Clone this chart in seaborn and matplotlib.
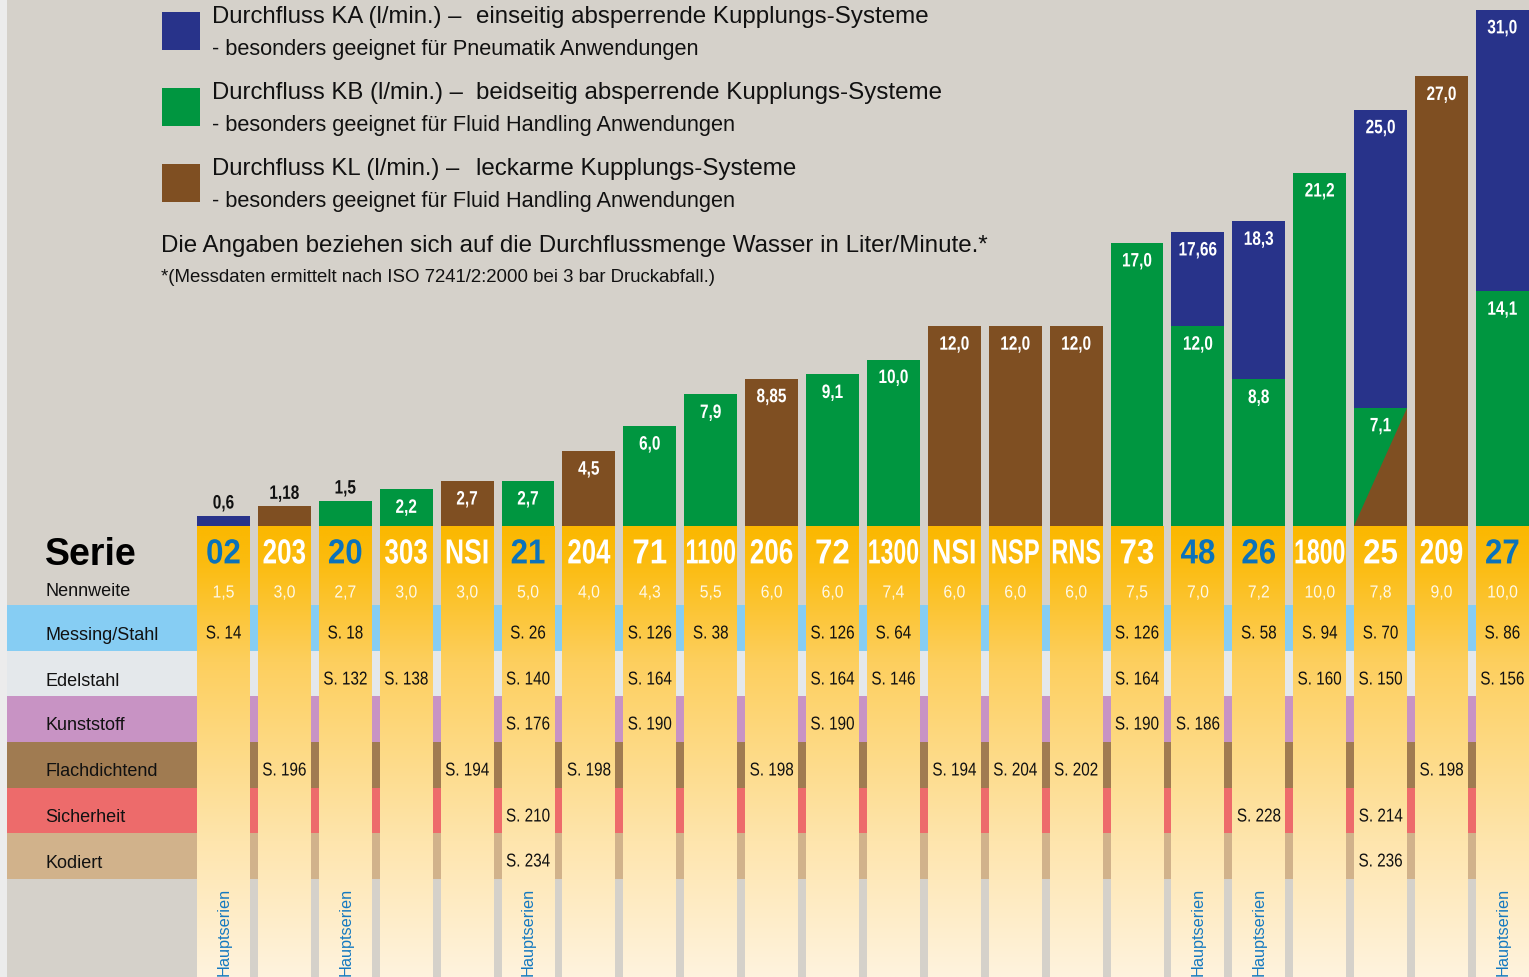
import numpy as np
import pandas as pd
import matplotlib
matplotlib.use("Agg")
import matplotlib.pyplot as plt
import seaborn as sns
from matplotlib.patches import Rectangle
from matplotlib.colors import LinearSegmentedColormap
from matplotlib.patheffects import AbstractPathEffect
from matplotlib.transforms import Affine2D

# ---------------------------------------------------------------- data
series = ["02", "203", "20", "303", "NSI", "21", "204", "71", "1100", "206", "72",
          "1300", "NSI", "NSP", "RNS", "73", "48", "26", "1800", "25", "209", "27"]
nennweite = [1.5, 3.0, 2.7, 3.0, 3.0, 5.0, 4.0, 4.3, 5.5, 6.0, 6.0,
             7.4, 6.0, 6.0, 6.0, 7.5, 7.0, 7.2, 10.0, 7.8, 9.0, 10.0]
hauptserie = [True, False, True, False, False, True, False, False, False, False, False,
              False, False, False, False, False, True, True, False, False, False, True]

# Durchfluss in l/min
flow_ka = [0.6, None, None, None, None, None, None, None, None, None, None,
           None, None, None, None, None, 17.66, 18.3, None, 25.0, None, 31.0]
flow_kb = [None, None, 1.5, 2.2, None, 2.7, None, 6.0, 7.9, None, 9.1,
           10.0, None, None, None, 17.0, 12.0, 8.8, 21.2, 7.1, None, 14.1]
flow_kl = [None, 1.18, None, None, 2.7, None, 4.5, None, None, 8.85, None,
           None, 12.0, 12.0, 12.0, None, None, None, None, 7.1, 27.0, None]

materials = ["Messing/Stahl", "Edelstahl", "Kunststoff", "Flachdichtend", "Sicherheit", "Kodiert"]
ref_messing = [14, None, 18, None, None, 26, None, 126, 38, None, 126,
               64, None, None, None, 126, None, 58, 94, 70, None, 86]
ref_edelstahl = [None, None, 132, 138, None, 140, None, 164, None, None, 164,
                 146, None, None, None, 164, None, None, 160, 150, None, 156]
ref_kunststoff = [None, None, None, None, None, 176, None, 190, None, None, 190,
                  None, None, None, None, 190, 186, None, None, None, None, None]
ref_flach = [None, 196, None, None, 194, None, 198, None, None, 198, None,
             None, 194, 204, 202, None, None, None, None, None, 198, None]
ref_sicher = [None, None, None, None, None, 210, None, None, None, None, None,
              None, None, None, None, None, None, 228, None, 214, None, None]
ref_kodiert = [None, None, None, None, None, 234, None, None, None, None, None,
               None, None, None, None, None, None, None, None, 236, None, None]
page_refs = [ref_messing, ref_edelstahl, ref_kunststoff, ref_flach, ref_sicher, ref_kodiert]

legend_items = [
    ("KA", "Durchfluss KA (l/min.) –", "einseitig absperrende Kupplungs-Systeme",
     "- besonders geeignet für Pneumatik Anwendungen"),
    ("KB", "Durchfluss KB (l/min.) –", "beidseitig absperrende Kupplungs-Systeme",
     "- besonders geeignet für Fluid Handling Anwendungen"),
    ("KL", "Durchfluss KL (l/min.) –", "leckarme Kupplungs-Systeme",
     "- besonders geeignet für Fluid Handling Anwendungen"),
]
note_main = "Die Angaben beziehen sich auf die Durchflussmenge Wasser in Liter/Minute.*"
note_small = "*(Messdaten ermittelt nach ISO 7241/2:2000 bei 3 bar Druckabfall.)"

# ---------------------------------------------------------------- style
W, H = 1529, 977
BG = "#d5d1ca"
PALETTE = {"KA": "#28338a", "KB": "#009640", "KL": "#7f4f22"}
ROW_COLORS = ["#86cdf3", "#e4e8eb", "#c893c4", "#a07b51", "#ed6b6b", "#d1b28b"]
BLUE_TEXT = "#0b72ba"

PITCH = 60.9          # pixels between column centres
X0 = 223.5            # pixel centre of the first column
BAR_W = 0.87
BASE_Y = 526          # pixel row of the bar baseline
PX_PER_UNIT = 16.65   # pixels per l/min
ROW_TOPS = [605, 651, 696, 742, 788, 833]
ROW_BOTTOM = 879

sns.set_theme(style="white")
plt.rcParams["font.family"] = ["Liberation Sans", "DejaVu Sans"]


class Condensed(AbstractPathEffect):
    """Reshape glyph outlines around their centre, like a condensed display face.

    The drawn width is min(sx * w, a + b * w) for a natural width w (pixels),
    so longer words are squeezed more; sy stretches the glyphs vertically.
    """

    def __init__(self, sx=0.8, a=None, b=0.0, sy=1.0):
        super().__init__()
        self.sx, self.a, self.b, self.sy = sx, a, b, sy

    def draw_path(self, renderer, gc, tpath, affine, rgbFace=None):
        ext = tpath.get_extents(affine)
        w = ext.width * self.sy
        target = self.sx * w
        if self.a is not None:
            target = min(target, self.a + self.b * w)
        sx = self.sy * target / w if w > 0 else 1.0
        cx = 0.5 * (ext.x0 + ext.x1)
        cy = 0.5 * (ext.y0 + ext.y1)
        aff = affine + Affine2D().translate(-cx, -cy).scale(sx, self.sy).translate(cx, cy)
        renderer.draw_path(gc, tpath, aff, rgbFace)


def col_x(px):
    return (px - X0) / PITCH


fig = plt.figure(figsize=(W / 100, H / 100), dpi=100, facecolor=BG)
xlim = (col_x(0), col_x(W))

# ---------------------------------------------------------------- table layer
ax_tab = fig.add_axes([0, 0, 1, 1])
ax_tab.set_facecolor(BG)
ax_tab.add_patch(Rectangle((col_x(0), 0), col_x(7) - col_x(0), H, color="#ececec", lw=0, zorder=0))

for top, bottom, color in zip(ROW_TOPS, ROW_TOPS[1:] + [ROW_BOTTOM], ROW_COLORS):
    ax_tab.add_patch(Rectangle((col_x(7), top), xlim[1] - col_x(7), bottom - top,
                               color=color, lw=0, zorder=1))

cmap = LinearSegmentedColormap.from_list(
    "serie", [(0, "#fbb800"), (0.08, "#fbbc10"), (0.3, "#fdcf5e"),
              (0.7, "#fee5ad"), (1, "#fff3de")])
grad = np.linspace(0, 1, 256).reshape(-1, 1)
for i in range(len(series)):
    ax_tab.imshow(grad, cmap=cmap, aspect="auto", origin="upper", zorder=2,
                  extent=(i - BAR_W / 2, i + BAR_W / 2, H, BASE_Y), interpolation="bilinear")

ax_tab.set_xlim(*xlim)
ax_tab.set_ylim(H, 0)
ax_tab.axis("off")

# row headers
ax_tab.text(col_x(45), 555, "Serie", fontsize=27, fontweight="bold", color="black",
            ha="left", va="center", zorder=5)
ax_tab.text(col_x(45), 592, "Nennweite", fontsize=13, color="#111111",
            ha="left", va="center", zorder=5)
for top, name in zip(ROW_TOPS, materials):
    ax_tab.text(col_x(45), top + 30, name, fontsize=13, color="#111111",
                ha="left", va="center", zorder=5)

# column contents
for i, name in enumerate(series):
    ax_tab.text(i, 554, name, fontsize=20, fontweight="bold",
                color=BLUE_TEXT if hauptserie[i] else "white", ha="center", va="center",
                zorder=5, path_effects=[Condensed(0.9, 19.4, 0.4, sy=1.25)])
    ax_tab.text(i, 593, f"{nennweite[i]:.1f}".replace(".", ","), fontsize=12.6,
                color="#fff8e6", ha="center", va="center", zorder=5,
                path_effects=[Condensed(0.9)])
    for top, refs in zip(ROW_TOPS, page_refs):
        if refs[i] is not None:
            ax_tab.text(i, top + 29, f"S. {refs[i]}", fontsize=13.4, color="#111111",
                        ha="center", va="center", zorder=5, path_effects=[Condensed(0.82)])
    if hauptserie[i]:
        ax_tab.text(i + 0.01, H - 1, "Hauptserien", fontsize=11.7, color="#1479c0", rotation=90,
                    ha="center", va="bottom", zorder=5)

# ---------------------------------------------------------------- flow bars
ax_bar = fig.add_axes([0, (H - BASE_Y) / H, 1, BASE_Y / H])
ax_bar.patch.set_alpha(0)

rows = []
for kind, values in (("KA", flow_ka), ("KB", flow_kb), ("KL", flow_kl)):
    for i, v in enumerate(values):
        if v is None:
            continue
        # a KL value equal to the KB value of the same series shares the bar
        if kind == "KL" and flow_kb[i] is not None and flow_kb[i] == v:
            continue
        rows.append({"pos": i, "kind": kind, "value": v})
bars = pd.DataFrame(rows)

sns.barplot(data=bars, x="pos", y="value", hue="kind", hue_order=["KA", "KL", "KB"],
            palette=PALETTE, dodge=False, native_scale=True, width=BAR_W,
            errorbar=None, saturation=1, legend=False, linewidth=0, ax=ax_bar)

# shared KB/KL bars: lower-right half in KL colour
for i, (kb, kl) in enumerate(zip(flow_kb, flow_kl)):
    if kb is not None and kl is not None and kb == kl:
        ax_bar.fill([i - BAR_W / 2, i + BAR_W / 2, i + BAR_W / 2], [0, 0, kl],
                    color=PALETTE["KL"], lw=0, zorder=3)

for values in (flow_ka, flow_kb, flow_kl):
    for i, v in enumerate(values):
        if v is None or (values is flow_kl and flow_kb[i] == v):
            continue
        label = str(v).replace(".", ",")
        inside = v >= 2
        ax_bar.annotate(label, xy=(i, v), xytext=(0, -19 if inside else 12),
                        textcoords="offset pixels", ha="center", va="center",
                        fontsize=14, fontweight="bold",
                        color="white" if inside else "#111111", zorder=6,
                        path_effects=[Condensed(0.79)])

ax_bar.set_xlim(*xlim)
ax_bar.set_ylim(0, BASE_Y / PX_PER_UNIT)
ax_bar.axis("off")

# ---------------------------------------------------------------- legend and notes
for k, (kind, head, tail, sub) in enumerate(legend_items):
    y0 = 17 + 76 * k
    ax_tab.add_patch(Rectangle((col_x(162), y0 - 5), col_x(200) - col_x(162), 38,
                               color=PALETTE[kind], lw=0, zorder=5))
    ax_tab.text(col_x(212), y0, head, fontsize=17.2, color="#111111", ha="left", va="center", zorder=5)
    ax_tab.text(col_x(476), y0, tail, fontsize=17.4, color="#111111", ha="left", va="center", zorder=5)
    ax_tab.text(col_x(212), y0 + 32, sub, fontsize=15.7, color="#111111", ha="left", va="center", zorder=5)

ax_tab.text(col_x(161), 246, note_main, fontsize=17.4, color="#111111", ha="left", va="center", zorder=5)
ax_tab.text(col_x(161), 277, note_small, fontsize=13.45, color="#111111", ha="left", va="center", zorder=5)

fig.savefig("out.png", dpi=100, facecolor=BG)
